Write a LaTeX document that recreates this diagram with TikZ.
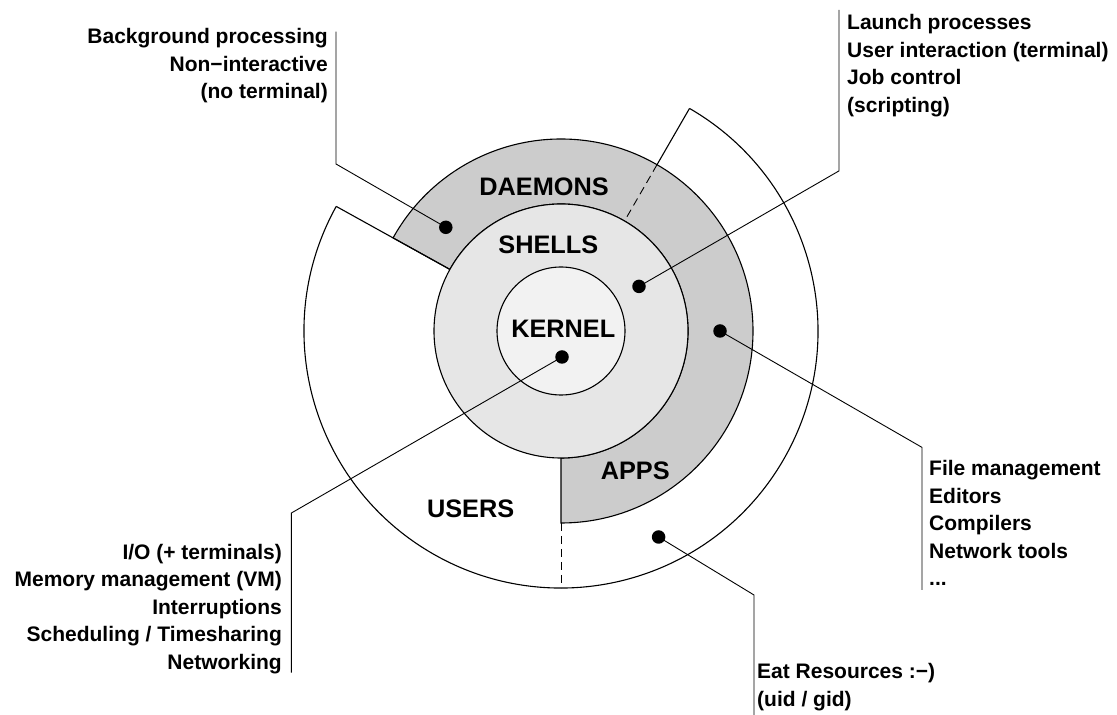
\documentclass[tikz,border=0pt]{standalone}
\usepackage{fontspec}
\setmainfont{Liberation Sans}
\usetikzlibrary{calc}
\definecolor{ringgray}{HTML}{CCCCCC}
\definecolor{shellgray}{HTML}{E6E6E6}
\definecolor{kernelgray}{HTML}{F2F2F2}
\begin{document}
\begin{tikzpicture}[x=1pt,y=1pt,
  ring/.style={draw=black,line width=1.1pt},
  leader/.style={draw=black,line width=0.9pt},
  dot/.style={circle,fill=black,inner sep=0pt,minimum size=13.5pt},
  biglabel/.style={font=\fontsize{25.3}{30}\selectfont\bfseries,inner sep=0pt},
  smalltext/.style={font=\fontsize{21}{27.5}\selectfont\bfseries,inner sep=0pt},
  sep/.style={draw=black,line width=0.9pt,dash pattern=on 8pt off 5pt}]
\useasboundingbox (0,0) rectangle (1117,715);
\coordinate (C) at (561,384);
% users outline
\draw[ring] ($(C)+(151:257)$) arc[start angle=151,end angle=420,radius=257];
% daemons + apps ring
\filldraw[ring,fill=ringgray] ($(C)+(-90:127)$) -- ($(C)+(-90:192)$)
  arc[start angle=-90,end angle=151,radius=192] -- ($(C)+(151:127)$)
  arc[start angle=151,end angle=-90,radius=127] -- cycle;
% radial separators
\draw[ring] ($(C)+(151:127)$) -- ($(C)+(151:257)$);
\draw[ring] ($(C)+(60:192)$) -- ($(C)+(60:257)$);
\draw[sep] ($(C)+(60:192)$) -- ($(C)+(60:127)$);
\draw[sep] ($(C)+(-90:192)$) -- ($(C)+(-90:257)$);
% shells and kernel
\filldraw[ring,fill=shellgray] (C) circle[radius=127];
\filldraw[ring,fill=kernelgray] (C) circle[radius=64];
% big labels
\node[biglabel] (ldaemons) at (544,528.3) {DAEMONS};
\node[biglabel] (lshells) at (548.3,470.3) {SHELLS};
\node[biglabel] (lkernel) at (563.3,386) {KERNEL};
\node[biglabel] (lapps) at (635.3,244.6) {APPS};
\node[biglabel] (lusers) at (470.6,206.4) {USERS};
% dots
\node[dot] (ddaemons) at (445.8,487.7) {};
\node[dot] (dshells) at (639,428.6) {};
\node[dot] (dkernel) at (562,358) {};
\node[dot] (dapps) at (720,384) {};
\node[dot] (dusers) at (658.6,178) {};
% leader bends and ends
\coordinate (bdaemons) at (336,551);
\coordinate (edaemons) at (336,683.3);
\coordinate (bshells) at (839,544.1);
\coordinate (eshells) at (839,705);
\coordinate (bkernel) at (291.4,202);
\coordinate (ekernel) at (291.4,42.3);
\coordinate (bapps) at (922,267.6);
\coordinate (eapps) at (922,125);
\coordinate (busers) at (754,120);
\coordinate (eusers) at (754,0);
\draw[leader] (ddaemons.center) -- (bdaemons) -- (edaemons);
\draw[leader] (dshells.center) -- (bshells) -- (eshells);
\draw[leader] (dkernel.center) -- (bkernel) -- (ekernel);
\draw[leader] (dapps.center) -- (bapps) -- (eapps);
\draw[leader] (dusers.center) -- (busers) -- (eusers);
% descriptions
\node[smalltext,align=right,anchor=north east] (tdaemons) at (328,686.5)
  {Background processing\\Non−interactive\\(no terminal)};
\node[smalltext,align=left,anchor=north west] (tshells) at (847,700.5)
  {Launch processes\\User interaction (terminal)\\Job control\\(scripting)};
\node[smalltext,align=left,anchor=north west] (tapps) at (929,254.5)
  {File management\\Editors\\Compilers\\Network tools\\...};
\node[smalltext,align=right,anchor=north east] (tkernel) at (282,171)
  {I/O (+ terminals)\\Memory management (VM)\\Interruptions\\Scheduling / Timesharing\\Networking};
\node[smalltext,align=left,anchor=north west] (tusers) at (757,51.5)
  {Eat Resources :−)\\(uid / gid)};
\end{tikzpicture}
\end{document}
